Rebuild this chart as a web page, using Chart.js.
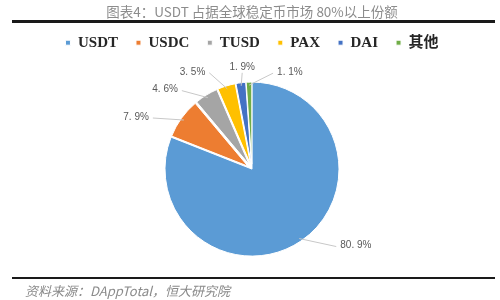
<!DOCTYPE html>
<html>
<head>
<meta charset="utf-8">
<script src="https://cdn.jsdelivr.net/npm/chart.js@4.4.0/dist/chart.umd.min.js"></script>
<style>
  html, body { margin: 0; padding: 0; background: #fff; }
  #wrap { width: 500px; height: 300px; position: relative; }
</style>
</head>
<body>
<div id="wrap"><canvas id="pie-chart"></canvas></div>
<script>
// datos
const coins = ['USDT', 'USDC', 'TUSD', 'PAX', 'DAI', '其他'];
const shares = [80.9, 7.9, 4.6, 3.5, 1.9, 1.1];
const colors = ['#5B9BD5', '#ED7D31', '#A5A5A5', '#FFC000', '#4472C4', '#70AD47'];
const explode = [0, 5, 5, 5, 5, 5];

// leader line end, relative to the slice edge, and text alignment
const leaderEnds = [[37, 8, 'left'], [-31, -2, 'right'], [-26, -7, 'right'], [-18, -16, 'right'], [1, -13, 'center'], [24, -12, 'left']];

// pie with slices pulled out but kept inside the same circle
class ExplodedPie extends Chart.PieController {
    updateElement(arc, index, props, mode) {
        const sh = explode[index] || 0;
        if (sh && props && props.outerRadius !== undefined) {
            const mid = (props.startAngle + props.endAngle) / 2;
            props = Object.assign({}, props, {
                x: props.x + Math.cos(mid) * sh,
                y: props.y + Math.sin(mid) * sh,
                outerRadius: props.outerRadius - sh
            });
        }
        super.updateElement(arc, index, props, mode);
    }
}
ExplodedPie.id = 'explodedPie';
ExplodedPie.defaults = Chart.PieController.defaults;
ExplodedPie.overrides = Chart.PieController.overrides;
Chart.register(ExplodedPie);

const pieLabels = {
    id: 'pieLabels',
    afterDatasetsDraw(chart) {
        const ctx = chart.ctx;
        const arcs = chart.getDatasetMeta(0).data;
        ctx.save();
        ctx.font = '10px "Liberation Sans", sans-serif';
        ctx.strokeStyle = '#c8c8c8';
        ctx.fillStyle = '#595959';
        ctx.lineWidth = 1;
        arcs.forEach((arc, i) => {
            const p = arc.getProps(['x', 'y', 'startAngle', 'endAngle', 'outerRadius']);
            const mid = (p.startAngle + p.endAngle) / 2;
            const r = p.outerRadius - 3;
            const ex = p.x + Math.cos(mid) * r;
            const ey = p.y + Math.sin(mid) * r;
            const [dx, dy, align] = leaderEnds[i];
            ctx.beginPath();
            ctx.moveTo(ex, ey);
            ctx.lineTo(ex + dx, ey + dy);
            ctx.stroke();
            ctx.textAlign = align;
            ctx.textBaseline = 'middle';
            const txt = shares[i].toFixed(1).replace('.', '. ') + '%';
            if (align === 'center') ctx.fillText(txt, ex + dx, ey + dy - 6);
            else ctx.fillText(txt, ex + dx + (align === 'left' ? 4 : -4), ey + dy - 1);
        });
        ctx.restore();
    },
    afterDraw(chart) {
        const ctx = chart.ctx;
        ctx.save();
        // rules above and below the chart
        ctx.fillStyle = '#1a1a1a';
        ctx.fillRect(12, 20, 483, 3);
        ctx.fillRect(12, 277, 483, 2);
        ctx.fillStyle = '#8a8a8a';
        ctx.font = 'italic 13px "Noto Sans CJK SC", serif';
        ctx.textAlign = 'left';
        ctx.textBaseline = 'middle';
        ctx.fillText('资料来源：DAppTotal，恒大研究院', 25, 291);
        ctx.restore();
    }
};

let ctx1 = document.getElementById('pie-chart').getContext('2d');
let myChart1 = new Chart(ctx1, {
    type: 'explodedPie',
    data: {
        labels: coins,
        datasets: [{
            data: shares,
            backgroundColor: colors,
            borderColor: '#ffffff',
            borderWidth: 1
        }]
    },
    options: {
        responsive: true,
        maintainAspectRatio: false,
        animation: false,
        radius: 87,
        layout: { padding: { left: 10, right: 6, top: 0, bottom: 22 } },
        plugins: {
            title: {
                display: true,
                text: '图表4：USDT 占据全球稳定币市场 80%以上份额',
                color: '#8c8c8c',
                font: { family: '"Noto Sans CJK SC", serif', size: 13.5, weight: 'normal' },
                padding: { top: 4, bottom: -3 }
            },
            legend: {
                position: 'top',
                labels: {
                    boxWidth: 5,
                    boxHeight: 5,
                    color: '#262626',
                    padding: 18,
                    font: { family: '"Liberation Serif", "Noto Sans CJK SC", serif', size: 15, weight: 'bold' }
                }
            },
            tooltip: { enabled: false }
        }
    },
    plugins: [pieLabels]
});
</script>
</body>
</html>
